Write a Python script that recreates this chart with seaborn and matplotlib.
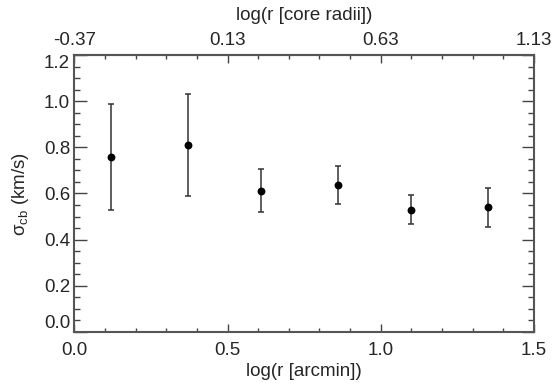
import numpy as np
import matplotlib
matplotlib.use('Agg')
import matplotlib.pyplot as plt
import seaborn as sns
from matplotlib.ticker import MultipleLocator, FixedLocator

# data
log_r_arcmin = [0.12, 0.37, 0.61, 0.86, 1.10, 1.35]
sigma_cb = [0.759, 0.809, 0.611, 0.636, 0.529, 0.540]
err_hi = [0.988, 1.03, 0.704, 0.717, 0.594, 0.624]
err_lo = [0.529, 0.587, 0.519, 0.555, 0.466, 0.455]

core_offset = 0.37
top_ticks = [-0.37, 0.13, 0.63, 1.13]

sns.set_style('ticks')
plt.rcParams['font.family'] = ['Liberation Sans', 'DejaVu Sans']
plt.rcParams['mathtext.fontset'] = 'custom'
plt.rcParams['mathtext.rm'] = 'Liberation Sans'
plt.rcParams['mathtext.it'] = 'Liberation Sans'
FS = 13.5
AXC = '#555555'

fig = plt.figure(figsize=(5.54, 3.84), dpi=100)
ax = fig.add_axes([0.134, 0.1354, 0.830, 0.7214])

y = np.array(sigma_cb)
yerr = [y - np.array(err_lo), np.array(err_hi) - y]
ax.errorbar(log_r_arcmin, sigma_cb, yerr=yerr, fmt='none', ecolor='#333333',
            elinewidth=1.1, capsize=2, capthick=1.1, zorder=2)
sns.scatterplot(x=log_r_arcmin, y=sigma_cb, ax=ax, color='black', s=32,
                edgecolor='black', linewidth=0, zorder=3)

ax.set_xlim(0, 1.5)
ax.set_ylim(0, 1.2)
ax.xaxis.set_major_locator(MultipleLocator(0.5))
ax.xaxis.set_minor_locator(MultipleLocator(0.1))
ax.yaxis.set_major_locator(MultipleLocator(0.2))
ax.yaxis.set_minor_locator(MultipleLocator(0.05))
ax.xaxis.set_major_formatter(plt.FormatStrFormatter('%.1f'))
ax.yaxis.set_major_formatter(plt.FormatStrFormatter('%.1f'))
ax.tick_params(which='both', direction='in', top=False, right=True,
               color='#444444', labelsize=FS, width=1)
ax.tick_params(axis='x', which='major', length=6, pad=7)
ax.tick_params(axis='x', which='minor', length=3)
ax.tick_params(axis='y', which='major', length=9, pad=3)
ax.tick_params(axis='y', which='minor', length=4.5)
for s in ax.spines.values():
    s.set_color(AXC)
    s.set_linewidth(1.5)

ax.set_xlabel('log(r [arcmin])', fontsize=FS, labelpad=3)
ax.set_ylabel(r'$\sigma_{\rm cb}$ (km/s)', fontsize=FS, labelpad=9)

top = ax.secondary_xaxis('top', functions=(lambda v: v - core_offset,
                                           lambda v: v + core_offset))
top.xaxis.set_major_locator(FixedLocator(top_ticks))
top.xaxis.set_minor_locator(FixedLocator(
    [t - core_offset for t in np.arange(0.1, 1.5, 0.1) if round(t * 10) % 5 != 0]))
top.xaxis.set_major_formatter(plt.FormatStrFormatter('%.2f'))
top.tick_params(which='both', direction='in', color='#444444', labelsize=FS, width=1)
top.tick_params(which='major', length=6, pad=4)
top.tick_params(which='minor', length=3)
top.spines['top'].set_color(AXC)
top.spines['top'].set_linewidth(1.5)
top.set_xlabel('log(r [core radii])', fontsize=FS, labelpad=9)

# IDL keeps the end labels of the y axis inside the axis range
fig.canvas.draw()
for lab in ax.get_yticklabels():
    if lab.get_text() == '0.0':
        lab.set_va('bottom')
    elif lab.get_text() == '1.2':
        lab.set_va('top')

fig.savefig('out.png', dpi=100)
